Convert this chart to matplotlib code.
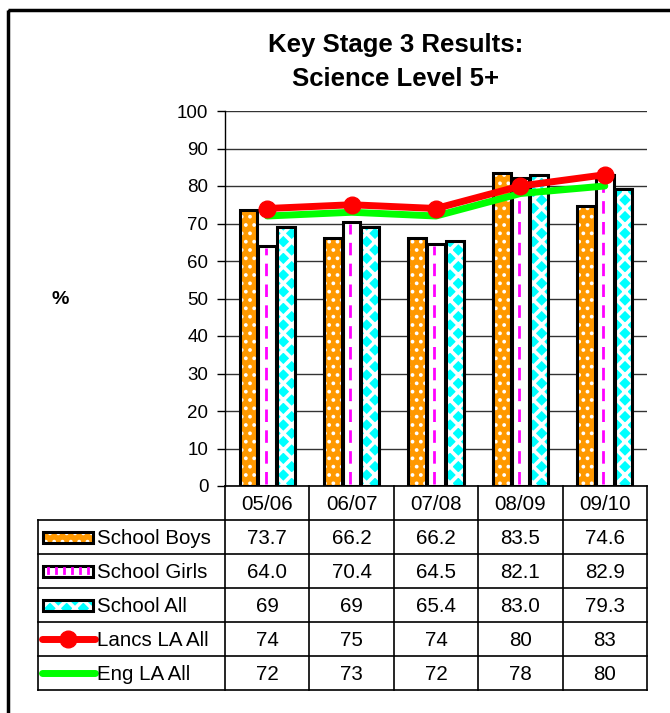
import matplotlib
matplotlib.use("Agg")
import matplotlib.pyplot as plt
import numpy as np
from matplotlib.patches import Rectangle

plt.rcParams["font.family"] = ["Liberation Sans", "DejaVu Sans"]

# --- data -----------------------------------------------------------------------
years = ["05/06", "06/07", "07/08", "08/09", "09/10"]
boys_txt = ["73.7", "66.2", "66.2", "83.5", "74.6"]
girls_txt = ["64.0", "70.4", "64.5", "82.1", "82.9"]
all_txt = ["69", "69", "65.4", "83.0", "79.3"]
lancs_txt = ["74", "75", "74", "80", "83"]
eng_txt = ["72", "73", "72", "78", "80"]

boys = [float(s) for s in boys_txt]
girls = [float(s) for s in girls_txt]
school_all = [float(s) for s in all_txt]
lancs = [float(s) for s in lancs_txt]
eng = [float(s) for s in eng_txt]

# --- layout (pixels) ------------------------------------------------------------
W, H = 670, 713
PX_L, PX_R, PX_T, PX_B = 225, 647, 111, 486
ROW_H = 34
LAB_L = 38
FS_TBL = 14.8

ORANGE = "#FF9900"
CYAN = "#00FFFF"
MAGENTA = "#FF00FF"
RED = "#FF0000"
GREEN = "#00FF00"

fig = plt.figure(figsize=(W / 100, H / 100), dpi=100)

# full-figure overlay in pixel coordinates (border, title, data table)
ov = fig.add_axes([0, 0, 1, 1], zorder=0)
ov.set_xlim(0, W)
ov.set_ylim(H, 0)
ov.axis("off")

ax = fig.add_axes([PX_L / W, 1 - PX_B / H, (PX_R - PX_L) / W, (PX_B - PX_T) / H],
                  zorder=2)
ax.patch.set_alpha(0)

x = np.arange(len(years))
bw = 0.21
off = 0.222


def hatched_bars(xs, vals, face, hatch, hcolor):
    plt.rcParams["hatch.color"] = hcolor
    ax.bar(xs, vals, bw, color=face, hatch=hatch, edgecolor=hcolor, linewidth=0,
           zorder=3)
    ax.bar(xs, vals, bw, facecolor="none", edgecolor="black", linewidth=2.2,
           zorder=4)


plt.rcParams["hatch.linewidth"] = 1.5
hatched_bars(x - off, boys, ORANGE, "..", "white")
# girls: white bar with a dashed magenta stripe
ax.bar(x, girls, bw, color="white", linewidth=0, zorder=3)
for xi, v in zip(x, girls):
    ax.plot([xi - 0.02, xi - 0.02], [0.5, v - 0.5], color=MAGENTA, lw=2,
            dashes=(4.5, 3), zorder=3.5)
ax.bar(x, girls, bw, facecolor="none", edgecolor="black", linewidth=2.2, zorder=4)
plt.rcParams["hatch.linewidth"] = 2.6
hatched_bars(x + off, school_all, CYAN, "xx", "white")

ax.plot(x, eng, color=GREEN, lw=5, zorder=5, solid_capstyle="round")
ax.plot(x, lancs, color=RED, lw=5, marker="o", markersize=12, zorder=6,
        solid_capstyle="round")

ax.set_xlim(-0.5, 4.5)
ax.set_ylim(0, 100)
ax.set_yticks(range(0, 101, 10))
ax.tick_params(axis="y", labelsize=13.5, length=6, width=1, direction="out", pad=6)
ax.set_xticks([])
for s in ["top", "right"]:
    ax.spines[s].set_visible(False)
ax.spines["left"].set_linewidth(1)
ax.spines["bottom"].set_linewidth(1.2)
ax.grid(axis="y", color="#333333", lw=1, zorder=1)
ax.set_axisbelow(True)

# outer border (right and bottom edges fall off the canvas)
ov.add_patch(Rectangle((8, 10), W + 20, H + 20, fill=False, edgecolor="black",
                       linewidth=2.5, clip_on=False))

ov.text(396, 45, "Key Stage 3 Results:", ha="center", va="center",
        fontsize=18.5, fontweight="bold")
ov.text(396, 79, "Science Level 5+", ha="center", va="center",
        fontsize=18.5, fontweight="bold")
ov.text(60, 300, "%", ha="center", va="center", fontsize=14, fontweight="bold")

# --- data table ------------------------------------------------------------------
col_w = (PX_R - PX_L) / len(years)
tbl_bot = PX_B + 6 * ROW_H
lw_t = 1.2
ov.plot([PX_L, PX_L], [PX_B, tbl_bot], color="black", lw=lw_t)
ov.plot([PX_R, PX_R], [PX_B, tbl_bot], color="black", lw=lw_t)
for i in range(1, len(years)):
    xc = PX_L + i * col_w
    ov.plot([xc, xc], [PX_B, tbl_bot], color="black", lw=lw_t)
ov.plot([LAB_L, LAB_L], [PX_B + ROW_H, tbl_bot], color="black", lw=lw_t)
for r in range(1, 7):
    yr = PX_B + r * ROW_H
    ov.plot([LAB_L, PX_R], [yr, yr], color="black", lw=lw_t)

for i, yl in enumerate(years):
    ov.text(PX_L + (i + 0.5) * col_w, PX_B + ROW_H / 2 + 1, yl, ha="center",
            va="center", fontsize=FS_TBL)

rows = [("School Boys", boys_txt), ("School Girls", girls_txt),
        ("School All", all_txt), ("Lancs LA All", lancs_txt),
        ("Eng LA All", eng_txt)]
for r, (name, vals) in enumerate(rows):
    yc = PX_B + (r + 1.5) * ROW_H
    ov.text(97, yc + 1, name, ha="left", va="center", fontsize=FS_TBL)
    for i, v in enumerate(vals):
        ov.text(PX_L + (i + 0.5) * col_w, yc + 1, v, ha="center", va="center",
                fontsize=FS_TBL)

# legend keys inside the label column
kx0, kx1, kh = 43, 93, 11


def key_box(yc, face, hatch, hcolor):
    plt.rcParams["hatch.color"] = hcolor
    ov.add_patch(Rectangle((kx0, yc - kh / 2), kx1 - kx0, kh, facecolor=face,
                           hatch=hatch, edgecolor=hcolor, linewidth=0))
    ov.add_patch(Rectangle((kx0, yc - kh / 2), kx1 - kx0, kh, facecolor="none",
                           edgecolor="black", linewidth=2.2))


plt.rcParams["hatch.linewidth"] = 1.5
key_box(PX_B + 1.5 * ROW_H, ORANGE, "..", "white")
yg = PX_B + 2.5 * ROW_H
ov.add_patch(Rectangle((kx0, yg - kh / 2), kx1 - kx0, kh, facecolor="white",
                       linewidth=0))
for xs in np.arange(kx0 + 5, kx1, 8):
    ov.plot([xs, xs], [yg - 3, yg + 2], color=MAGENTA, lw=2)
ov.add_patch(Rectangle((kx0, yg - kh / 2), kx1 - kx0, kh, facecolor="none",
                       edgecolor="black", linewidth=2.2))
plt.rcParams["hatch.linewidth"] = 2.6
key_box(PX_B + 3.5 * ROW_H, CYAN, "xx", "white")

yl_ = PX_B + 4.5 * ROW_H
ov.plot([42, 95], [yl_, yl_], color=RED, lw=5, solid_capstyle="round")
ov.plot([68], [yl_], color=RED, marker="o", markersize=12)
ye = PX_B + 5.5 * ROW_H
ov.plot([42, 95], [ye, ye], color=GREEN, lw=5, solid_capstyle="round")

fig.savefig("out.png", dpi=100)
